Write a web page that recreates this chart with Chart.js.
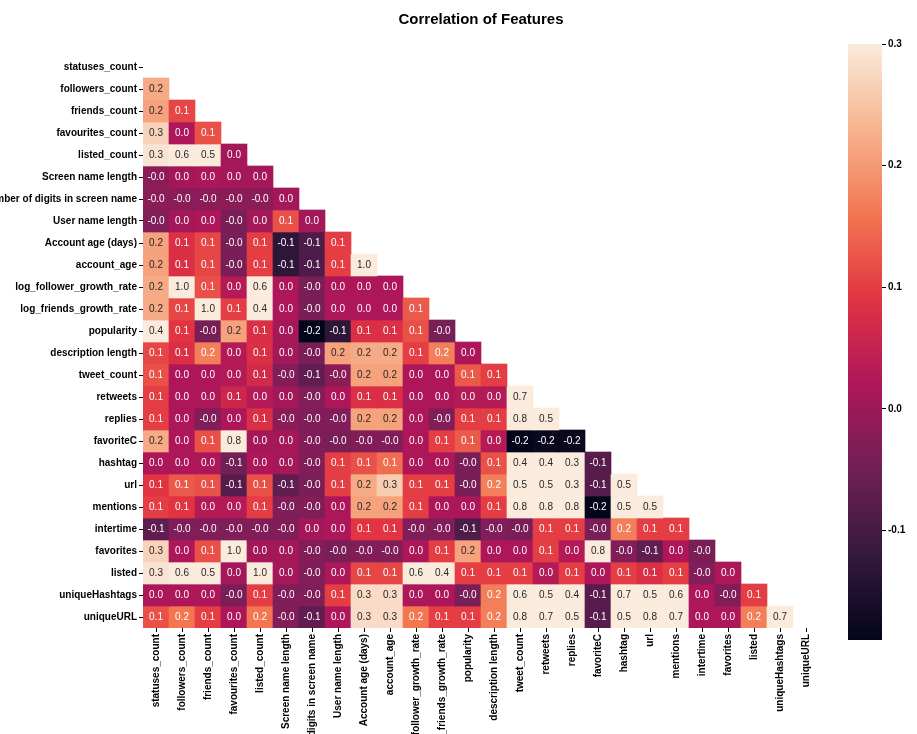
<!DOCTYPE html>
<html>
<head>
<meta charset="utf-8">
<script src="https://cdn.jsdelivr.net/npm/chart.js@4.4.1/dist/chart.umd.min.js"></script>
<style>
  html, body { margin: 0; padding: 0; background: #fff; }
  #wrap { position: relative; width: 917px; height: 734px; overflow: hidden; }
  #heat { position: absolute; left: 0; top: 0; }
  #cbar { position: absolute; left: 830px; top: 0; }
</style>
</head>
<body>
<div id="wrap">
  <canvas id="heat" width="830" height="734"></canvas>
  <canvas id="cbar" width="87" height="734"></canvas>
</div>
<script>
// Feature names (rows top to bottom, columns left to right)
const featureNames = [
  'statuses_count', 'followers_count', 'friends_count', 'favourites_count', 'listed_count',
  'Screen name length', 'Number of digits in screen name', 'User name length',
  'Account age (days)', 'account_age', 'log_follower_growth_rate', 'log_friends_growth_rate',
  'popularity', 'description length', 'tweet_count', 'retweets', 'replies', 'favoriteC',
  'hashtag', 'url', 'mentions', 'intertime', 'favorites', 'listed', 'uniqueHashtags', 'uniqueURL'
];

// Lower triangle of the correlation matrix: row i holds correlations with columns 0..i-1
const corrRows = [
  [],
  [0.22],
  [0.21, 0.11],
  [0.27, 0.02, 0.12],
  [0.29, 0.6, 0.5, 0.01],
  [-0.02, 0.01, 0.02, 0.01, 0.01],
  [-0.02, -0.02, -0.02, -0.02, -0.02, 0.01],
  [-0.03, 0.01, 0.02, -0.04, 0.01, 0.12, 0.01],
  [0.21, 0.08, 0.11, -0.04, 0.1, -0.13, -0.09, 0.1],
  [0.21, 0.08, 0.11, -0.04, 0.1, -0.13, -0.09, 0.1, 1.0],
  [0.22, 1.0, 0.12, 0.03, 0.6, 0.02, -0.04, 0.02, 0.02, 0.02],
  [0.22, 0.11, 1.0, 0.1, 0.4, 0.02, -0.04, 0.02, 0.02, 0.02, 0.13],
  [0.4, 0.09, -0.04, 0.21, 0.08, 0.01, -0.19, -0.13, 0.08, 0.08, 0.12, -0.04],
  [0.11, 0.08, 0.17, 0.03, 0.08, 0.01, -0.04, 0.21, 0.22, 0.22, 0.1, 0.17, 0.02],
  [0.12, 0.02, 0.02, 0.03, 0.07, -0.03, -0.07, -0.02, 0.21, 0.21, 0.02, 0.02, 0.13, 0.1],
  [0.1, 0.02, 0.02, 0.06, 0.03, 0.01, -0.03, 0.02, 0.08, 0.08, 0.02, 0.02, 0.03, 0.03, 0.7],
  [0.1, 0.02, -0.03, 0.02, 0.08, -0.02, -0.03, -0.03, 0.21, 0.21, 0.02, -0.03, 0.1, 0.1, 0.8, 0.5],
  [0.22, 0.02, 0.12, 0.8, 0.01, 0.01, -0.03, -0.04, -0.03, -0.03, 0.02, 0.1, 0.13, 0.03, -0.19, -0.18, -0.18],
  [0.02, 0.02, 0.02, -0.05, 0.02, 0.01, -0.03, 0.1, 0.12, 0.15, 0.02, 0.02, -0.04, 0.12, 0.4, 0.4, 0.3, -0.08],
  [0.09, 0.13, 0.12, -0.08, 0.12, -0.07, -0.04, 0.1, 0.22, 0.26, 0.1, 0.1, -0.04, 0.17, 0.5, 0.5, 0.3, -0.08, 0.5],
  [0.1, 0.09, 0.03, 0.03, 0.1, -0.03, -0.03, 0.02, 0.21, 0.21, 0.1, 0.02, 0.02, 0.1, 0.8, 0.8, 0.8, -0.19, 0.5, 0.5],
  [-0.07, -0.03, -0.03, -0.03, -0.03, -0.03, 0.01, 0.02, 0.09, 0.09, -0.03, -0.03, -0.09, -0.03, -0.04, 0.1, 0.1, -0.04, 0.17, 0.1, 0.1],
  [0.27, 0.02, 0.12, 1.0, 0.01, 0.01, -0.03, -0.04, -0.03, -0.03, 0.02, 0.1, 0.21, 0.02, 0.02, 0.1, 0.03, 0.8, -0.03, -0.07, 0.02, -0.04],
  [0.29, 0.6, 0.5, 0.01, 1.0, 0.01, -0.03, 0.02, 0.11, 0.11, 0.6, 0.4, 0.1, 0.1, 0.1, 0.03, 0.1, 0.02, 0.1, 0.08, 0.1, -0.03, 0.02],
  [0.02, 0.02, 0.02, -0.04, 0.1, -0.03, -0.03, 0.1, 0.28, 0.28, 0.02, 0.02, -0.04, 0.17, 0.6, 0.5, 0.4, -0.08, 0.7, 0.5, 0.6, 0.02, -0.03, 0.1],
  [0.12, 0.16, 0.1, 0.02, 0.16, -0.03, -0.07, 0.02, 0.28, 0.28, 0.16, 0.1, 0.1, 0.17, 0.8, 0.7, 0.5, -0.08, 0.5, 0.8, 0.7, 0.02, 0.02, 0.17, 0.7]
];

// Colour bar tick values
const colorbarTicks = [0.3, 0.2, 0.1, 0.0, -0.1];

const vmax = 0.3;
const vmin = Math.min(...corrRows.flat());

// "rocket" colormap stops
const rocketStops = [
  [0.0, '#03051a'], [0.143, '#35193e'], [0.286, '#701f57'], [0.429, '#ad1759'],
  [0.571, '#e13342'], [0.714, '#f37651'], [0.857, '#f6b48f'], [1.0, '#faebdd']
];

function hexToRgb(h) {
  return [parseInt(h.slice(1, 3), 16), parseInt(h.slice(3, 5), 16), parseInt(h.slice(5, 7), 16)];
}
function rocketRgb(t) {
  t = Math.max(0, Math.min(1, t));
  for (let i = 1; i < rocketStops.length; i++) {
    const [t1, c1] = rocketStops[i];
    const [t0, c0] = rocketStops[i - 1];
    if (t <= t1) {
      const f = (t - t0) / (t1 - t0);
      const a = hexToRgb(c0), b = hexToRgb(c1);
      return a.map((v, k) => Math.round(v + (b[k] - v) * f));
    }
  }
  return hexToRgb(rocketStops[rocketStops.length - 1][1]);
}
function valueRgb(v) { return rocketRgb((v - vmin) / (vmax - vmin)); }
function rgbStr(c) { return `rgb(${c[0]},${c[1]},${c[2]})`; }
function luminance(c) {
  const lin = c.map(v => { v /= 255; return v <= 0.03928 ? v / 12.92 : Math.pow((v + 0.055) / 1.055, 2.4); });
  return 0.2126 * lin[0] + 0.7152 * lin[1] + 0.0722 * lin[2];
}

const FONT = "'Liberation Sans', Arial, Helvetica, sans-serif";

// One floating-bar dataset per row; each bar spans [row, row + 1] on the y scale
const datasets = corrRows.map((vals, r) => ({
  label: featureNames[r],
  data: featureNames.map((_, c) => (c < r ? [r, r + 1] : null)),
  backgroundColor: featureNames.map((_, c) => (c < r ? rgbStr(valueRgb(vals[c])) : 'rgba(0,0,0,0)')),
  cellValues: vals,
  borderWidth: 0,
  barPercentage: 1,
  categoryPercentage: 1,
  grouped: false
}));

// Writes each cell's value in its centre
const annotatePlugin = {
  id: 'annotate',
  afterDatasetsDraw(chart) {
    const ctx = chart.ctx;
    ctx.save();
    ctx.font = `10px ${FONT}`;
    ctx.textAlign = 'center';
    ctx.textBaseline = 'middle';
    chart.data.datasets.forEach((ds, di) => {
      const meta = chart.getDatasetMeta(di);
      meta.data.forEach((el, c) => {
        if (ds.data[c] == null) return;
        const v = ds.cellValues[c];
        const p = el.getProps(['x', 'y', 'base'], true);
        ctx.fillStyle = luminance(valueRgb(v)) > 0.408 ? '#262626' : '#ffffff';
        ctx.fillText(v.toFixed(1), p.x, (p.y + p.base) / 2 + 0.5);
      });
    });
    ctx.restore();
  }
};

new Chart(document.getElementById('heat'), {
  type: 'bar',
  data: { labels: featureNames, datasets },
  plugins: [annotatePlugin],
  options: {
    responsive: false,
    animation: false,
    events: [],
    layout: { padding: { left: 0, right: 11, top: 0, bottom: 0 } },
    plugins: {
      legend: { display: false },
      tooltip: { enabled: false },
      title: {
        display: true,
        text: 'Correlation of Features',
        color: '#000',
        fullSize: false,
        font: { family: FONT, size: 15, weight: 'bold' },
        padding: { top: 11, bottom: 27 }
      }
    },
    scales: {
      x: {
        type: 'category',
        offset: true,
        grid: { offset: false, drawOnChartArea: false, drawTicks: true, tickLength: 4, color: '#000' },
        border: { display: false },
        ticks: {
          autoSkip: false, maxRotation: 90, minRotation: 90, padding: 2,
          color: '#000', font: { family: FONT, size: 10, weight: 'bold' }
        },
        afterFit(scale) { scale.height = 106; }
      },
      y: {
        type: 'linear',
        min: 0,
        max: featureNames.length,
        reverse: true,
        afterBuildTicks(scale) { scale.ticks = featureNames.map((_, i) => ({ value: i + 0.5 })); },
        grid: { drawOnChartArea: false, drawTicks: true, tickLength: 4, color: '#000' },
        border: { display: false },
        ticks: {
          autoSkip: false, padding: 2, color: '#000',
          font: { family: FONT, size: 10, weight: 'bold' },
          callback: (value) => featureNames[Math.floor(value)]
        },
        afterFit(scale) { scale.width = 143; }
      }
    }
  }
});

// Colour bar: a single floating bar from vmin to vmax filled with the colormap gradient
new Chart(document.getElementById('cbar'), {
  type: 'bar',
  data: {
    labels: ['scale'],
    datasets: [{
      data: [[vmin, vmax]],
      borderWidth: 0,
      barPercentage: 1,
      categoryPercentage: 1,
      backgroundColor(context) {
        const { chart } = context;
        const area = chart.chartArea;
        if (!area) return '#000';
        const g = chart.ctx.createLinearGradient(0, area.bottom, 0, area.top);
        rocketStops.forEach(([t, c]) => g.addColorStop(t, c));
        return g;
      }
    }]
  },
  options: {
    responsive: false,
    animation: false,
    events: [],
    layout: { padding: { left: 18, right: 3, top: 44, bottom: 94 } },
    plugins: { legend: { display: false }, tooltip: { enabled: false } },
    scales: {
      x: { display: false },
      y: {
        position: 'right',
        min: vmin,
        max: vmax,
        afterBuildTicks(scale) { scale.ticks = colorbarTicks.map(v => ({ value: v })); },
        grid: { drawOnChartArea: false, drawTicks: true, tickLength: 4, color: '#000' },
        border: { display: false },
        ticks: {
          padding: 2, color: '#000',
          font: { family: FONT, size: 10, weight: 'bold' },
          callback: (v) => Number(v).toFixed(1)
        },
        afterFit(scale) { scale.width = 32; }
      }
    }
  }
});
</script>
</body>
</html>
